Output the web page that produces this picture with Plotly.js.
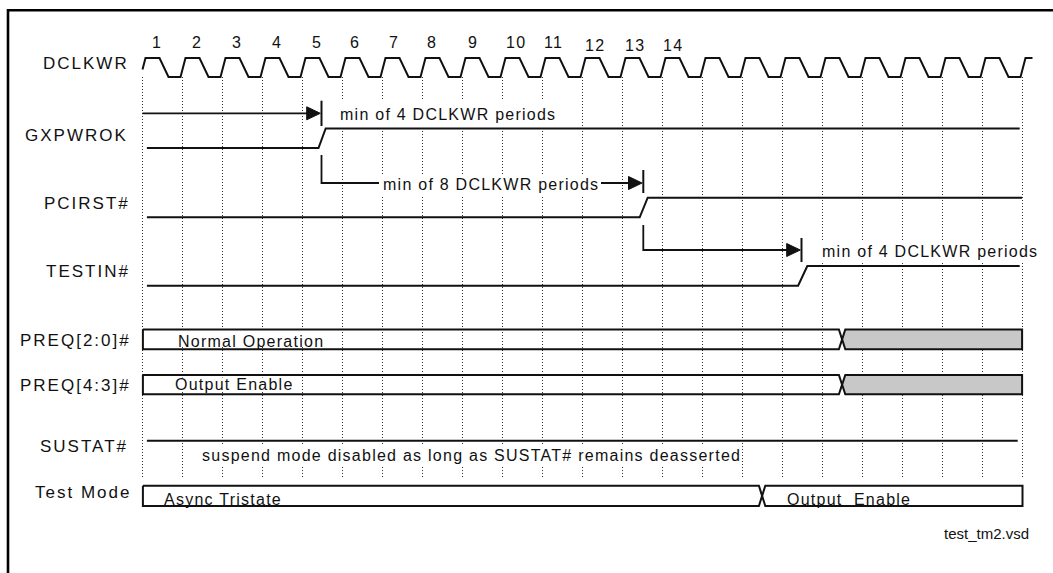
<!DOCTYPE html>
<html>
<head>
<meta charset="utf-8">
<script src="https://cdn.plot.ly/plotly-3.0.1.min.js"></script>
<style>
html,body{margin:0;padding:0;background:#fff;}
text.annotation-text{white-space:pre;}
text.annotation-text[style*="17px"]{letter-spacing:2px;}
text.annotation-text[style*="16px"]{letter-spacing:1.25px;}
</style>
</head>
<body>
<div id="chart" style="width:1053px;height:573px;"></div>
<script>
// ================= DATA (time in DCLKWR periods) =================
const signalNames = ['DCLKWR','GXPWROK','PCIRST#','TESTIN#','PREQ[2:0]#','PREQ[4:3]#','SUSTAT#','Test Mode'];
const clockEdges = [0,1,2,3,4,5,6,7,8,9,10,11,12,13,14,15,16,17,18,19,20,21,22];
const clockNumbers = ['1','2','3','4','5','6','7','8','9','10','11','12','13','14'];
const gxpwrokEdge = [4.40, 4.58];
const pcirstEdge = [12.43, 12.63];
const testinEdge = [16.39, 16.62];
const signalStart = [0.11, 0.11, 0.11];
const signalEnd = [21.93, 21.99, 21.93];
const constraintStart = [0, 4.475, 12.52];
const constraintEnd = [4.475, 12.52, 16.475];
const constraintText = ['min of 4 DCLKWR periods','min of 8 DCLKWR periods','min of 4 DCLKWR periods'];
const preq20Switch = [0.01, 17.49, 21.99];
const preq20States = ['Normal Operation', ''];
const preq43Switch = [0.01, 17.49, 21.99];
const preq43States = ['Output Enable', ''];
const testModeSwitch = [0.01, 15.49, 22.0];
const testModeStates = ['Async Tristate', 'Output  Enable'];
const sustatSpan = [0.11, 21.88];
const sustatNote = 'suspend mode disabled as long as SUSTAT# remains deasserted';
const fileName = 'test_tm2.vsd';

// ================= LAYOUT CONSTANTS (pixel geometry) =================
const PX0 = 142.5, PERIOD = 40, W = 1053, H = 573;
const X = px => (px - PX0) / PERIOD;
const FONT = 'Liberation Sans, Arial, Helvetica, sans-serif';
const INK = '#111';
const clkRow = {hi: 58, lo: 77};
const stepRows = [{hi: 128.5, lo: 148}, {hi: 197.7, lo: 217.3}, {hi: 266, lo: 285.7}];
const busRows = [{top: 329.5, bot: 349.3}, {top: 375, bot: 394.3}, {top: 485.7, bot: 506}];
const sustatY = 440.7;
const labelCenterX = [85.7, 76.7, 86.5, 88.2, 75.8, 75.8, 84, 82.5];
const labelY = [63.7, 135.8, 203.3, 271.2, 340, 385, 446.7, 492.5];
const numberX = [156.7,196.7,236.7,277.3,316.7,355,394,431.7,473.3,515.7,553.3,595,635,673.3];
const numberY = [42.5,42.5,42.5,42.5,42.5,42.5,42.5,42.5,42.5,42.5,42.5,45.8,45.8,45.8];
const arrowY = [113.3, 183, 250];
const arrowLTop = [null, 155, 225];
const barSpan = [[100.7, 126], [170, 193], [238, 262]];
const constraintTextCX = [448.3, 490.5, 930];
const constraintTextY = [114, 184.5, 251];
const busTextCX = [[250.8, null], [234.2, null], [223.3, 848.8]];
const busTextY = [341, 384.2, 499];
const busFill = [[null, '#c8c8c8'], [null, '#c8c8c8'], [null, null]];
const masks = [[336,560,101,127],[379,601,175,195],[819,1040,241,262],[199,741,444,467],[177,325,332,347],[174,294,377.5,392]];

const traces = [];
const lineStyle = {color: INK, width: 2};

// ---- clock ----
(function(){
  const x = [], y = [], n = clockEdges.length;
  clockEdges.forEach((e, i) => {
    if (i === 0) { x.push(e); y.push(clkRow.lo - 0.4 * (clkRow.lo - clkRow.hi)); }
    else { x.push(e - 0.05); y.push(clkRow.lo); }
    x.push(e + 0.075); y.push(clkRow.hi);
    if (i < n - 1) {
      x.push(e + 0.425); y.push(clkRow.hi);
      x.push(e + 0.65); y.push(clkRow.lo);
    } else {
      x.push(e + 0.25); y.push(clkRow.hi);
    }
  });
  traces.push({x, y, mode: 'lines', line: lineStyle, hoverinfo: 'skip'});
})();

// ---- step signals ----
[gxpwrokEdge, pcirstEdge, testinEdge].forEach((edge, k) => {
  const r = stepRows[k];
  traces.push({x: [signalStart[k], edge[0], edge[1], signalEnd[k]],
               y: [r.lo, r.lo, r.hi, r.hi],
               mode: 'lines', line: lineStyle, hoverinfo: 'skip'});
});

// ---- SUSTAT# ----
traces.push({x: sustatSpan, y: [sustatY, sustatY], mode: 'lines', line: lineStyle, hoverinfo: 'skip'});

// ---- buses ----
[preq20Switch, preq43Switch, testModeSwitch].forEach((sw, k) => {
  const r = busRows[k], mid = (r.top + r.bot) / 2, h = 0.08;
  for (let i = 0; i < sw.length - 1; i++) {
    const a = sw[i], b = sw[i + 1];
    const x = [], y = [];
    if (i === 0) { x.push(a); y.push(r.top); }
    else { x.push(a, a + h); y.push(mid, r.top); }
    if (i === sw.length - 2) { x.push(b, b); y.push(r.top, r.bot); }
    else { x.push(b - h, b, b - h); y.push(r.top, mid, r.bot); }
    if (i === 0) { x.push(a, a); y.push(r.bot, r.top); }
    else { x.push(a + h, a); y.push(r.bot, mid); }
    const f = busFill[k][i];
    traces.push({x, y, mode: 'lines', line: lineStyle, hoverinfo: 'skip',
                 fill: f ? 'toself' : 'none', fillcolor: f || 'rgba(0,0,0,0)'});
  }
});

// ---- constraint arrows ----
constraintStart.forEach((s, k) => {
  const e = constraintEnd[k], yA = arrowY[k], tip = e - 0.03, hl = 0.34, hw = 6.5;
  const lx = [], ly = [];
  if (arrowLTop[k] !== null) { lx.push(s); ly.push(arrowLTop[k]); }
  lx.push(s, tip - hl + 0.02); ly.push(yA, yA);
  traces.push({x: lx, y: ly, mode: 'lines', line: {color: INK, width: 1.8}, hoverinfo: 'skip'});
  traces.push({x: [tip - hl, tip, tip - hl, tip - hl], y: [yA - hw, yA, yA + hw, yA - hw],
               mode: 'lines', fill: 'toself', fillcolor: INK, line: {color: INK, width: 1}, hoverinfo: 'skip'});
  traces.push({x: [e, e], y: barSpan[k], mode: 'lines', line: {color: INK, width: 2}, hoverinfo: 'skip'});
});

// ---- shapes: grid, masks, frame ----
const shapes = [];
clockEdges.forEach(e => shapes.push({type: 'line', xref: 'x', yref: 'y', x0: e, x1: e, y0: 77, y1: 479,
  layer: 'below', line: {color: '#333', width: 1, dash: '1px,2px'}}));
masks.forEach(m => shapes.push({type: 'rect', xref: 'x', yref: 'y', x0: X(m[0]), x1: X(m[1]), y0: m[2], y1: m[3],
  layer: 'above', fillcolor: '#fff', line: {width: 0}}));
shapes.push({type: 'line', xref: 'x', yref: 'y', x0: X(7.5), x1: X(1060), y0: 10.3, y1: 10.3, layer: 'above', line: {color: '#000', width: 2.6}});
shapes.push({type: 'line', xref: 'x', yref: 'y', x0: X(8), x1: X(8), y0: 9, y1: 580, layer: 'above', line: {color: '#000', width: 2.6}});

// ---- annotations ----
const ann = [];
const txt = (text, cx, y, size) => ({text, x: X(cx), y, xref: 'x', yref: 'y', xanchor: 'center', yanchor: 'middle',
  showarrow: false, borderpad: 0, borderwidth: 0, font: {family: FONT, size, color: INK}});
signalNames.forEach((s, i) => ann.push(txt(s, labelCenterX[i], labelY[i], 17)));
clockNumbers.forEach((s, i) => ann.push(txt(s, numberX[i], numberY[i], 16)));
constraintText.forEach((s, i) => ann.push(txt(s, constraintTextCX[i], constraintTextY[i], 16)));
[preq20States, preq43States, testModeStates].forEach((st, k) => st.forEach((s, i) => {
  if (s) ann.push(txt(s, busTextCX[k][i], busTextY[k], 16));
}));
ann.push(txt(sustatNote, 471, 455, 16));
ann.push(txt(fileName, 986.7, 533.8, 15));

const layout = {
  width: W, height: H, margin: {l: 0, r: 0, t: 0, b: 0, pad: 0},
  paper_bgcolor: '#fff', plot_bgcolor: '#fff', showlegend: false,
  xaxis: {range: [X(0), X(W)], visible: false, fixedrange: true},
  yaxis: {range: [H, 0], visible: false, fixedrange: true},
  shapes, annotations: ann
};
Plotly.newPlot('chart', traces, layout, {staticPlot: true, displayModeBar: false});
</script>
</body>
</html>
